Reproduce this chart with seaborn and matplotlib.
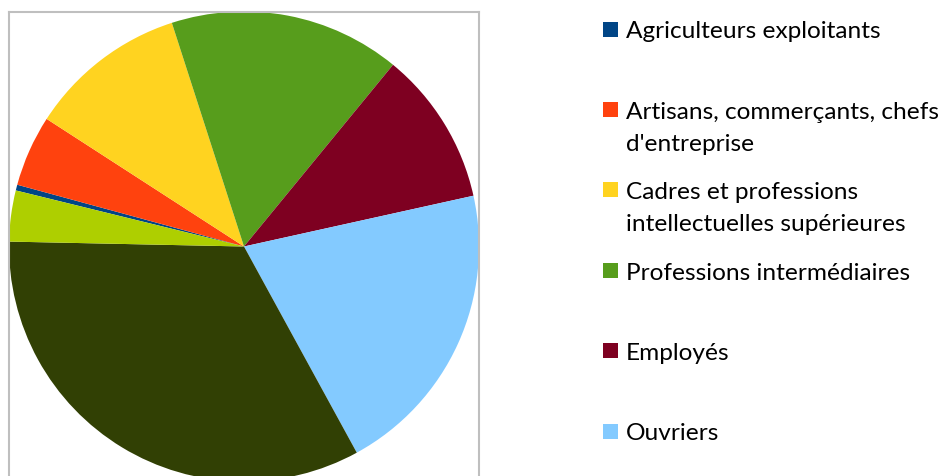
import matplotlib.pyplot as plt
import seaborn as sns
from matplotlib.patches import Rectangle

# PCS categories (last two fall below the visible legend)
categories = [
    "Agriculteurs exploitants",
    "Artisans, commerçants, chefs d'entreprise",
    "Cadres et professions intellectuelles supérieures",
    "Professions intermédiaires",
    "Employés",
    "Ouvriers",
    "Retraités",
    "Autres personnes sans activité professionnelle",
]
legend_labels = [
    "Agriculteurs exploitants",
    "Artisans, commerçants, chefs\nd'entreprise",
    "Cadres et professions\nintellectuelles supérieures",
    "Professions intermédiaires",
    "Employés",
    "Ouvriers",
]
shares = [0.4, 4.9, 10.9, 15.9, 10.6, 20.5, 33.3, 3.5]
colors = ["#004586", "#ff420e", "#ffd320", "#579d1c",
          "#7e0021", "#83caff", "#314004", "#aecf00"]

sns.set_theme(style="white")
plt.rcParams['font.family'] = ['Lato', 'DejaVu Sans']
palette = sns.color_palette(colors)

W, H = 944, 477
fig = plt.figure(figsize=(W / 100, H / 100), dpi=100)

# plot area (pixels): left 9, top 12.5, side 470 -> bottom runs off the canvas
left, top, side = 9, 12.5, 470
ax = fig.add_axes([left / W, (H - top - side) / H, side / W, side / H])
ax.pie(shares, colors=palette, startangle=166.2, counterclock=False,
       radius=1, frame=True, wedgeprops=dict(linewidth=0))
ax.set_xlim(-1, 1)
ax.set_ylim(-1, 1)
ax.set_xticks([])
ax.set_yticks([])
for s in ax.spines.values():
    s.set_color('#bfbfbf')
    s.set_linewidth(1.5)

# legend drawn by hand: Excel style fixed step between entries
y0, step, line_h = 30, 80.4, 32
for i, lab in enumerate(legend_labels):
    yc = y0 + i * step
    fig.add_artist(Rectangle((602.5 / W, 1 - (yc + 7.5) / H), 15 / W, 15 / H,
                             facecolor=palette[i], edgecolor='none',
                             transform=fig.transFigure))
    for j, line in enumerate(lab.split('\n')):
        fig.text(626 / W, 1 - (yc + 8.5 + j * line_h) / H, line, fontsize=17.6,
                 color='black', ha='left', va='baseline')

fig.savefig('out.png', dpi=100)
